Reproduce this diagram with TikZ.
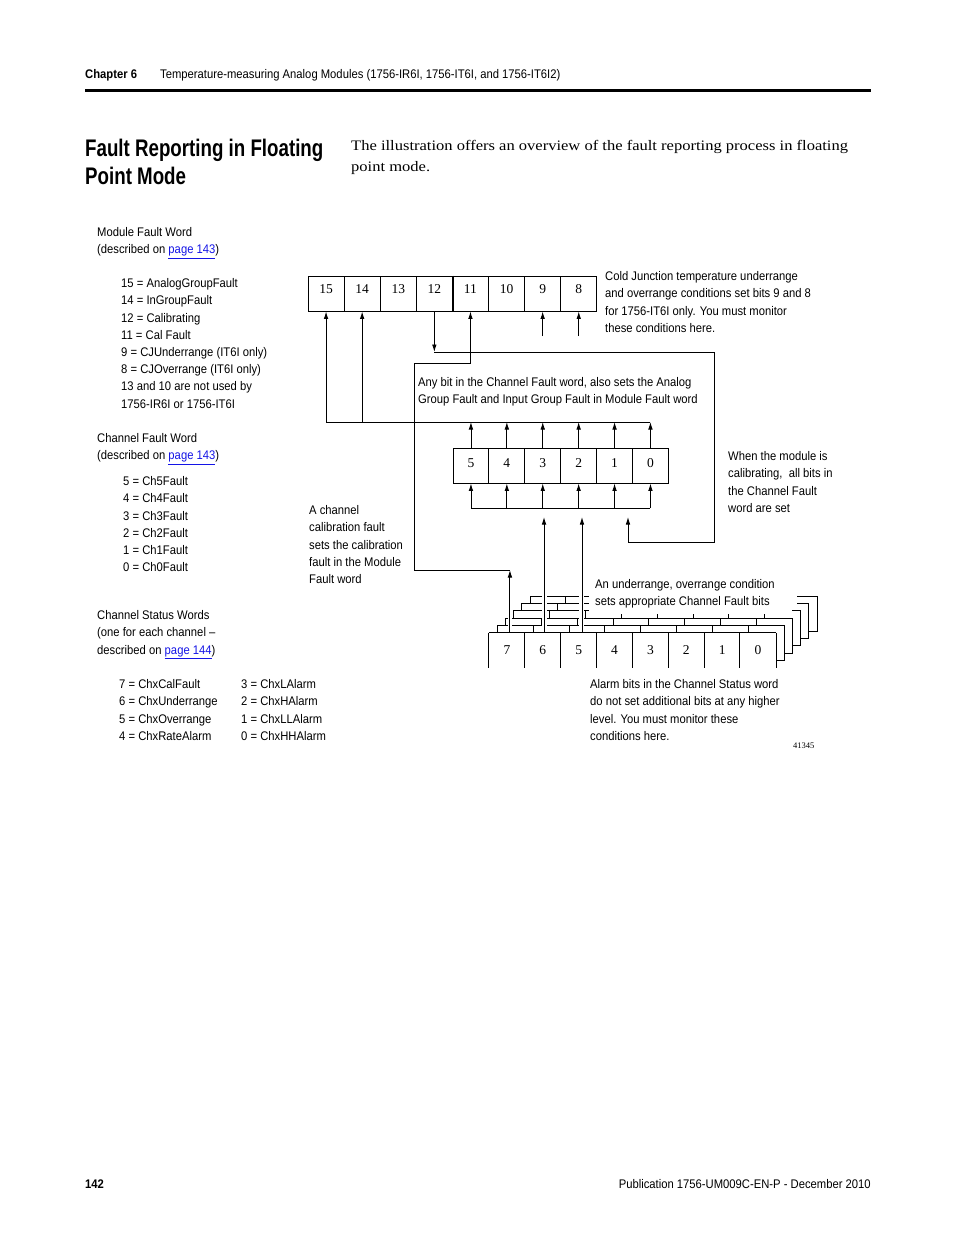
\documentclass[tikz,border=0pt]{standalone}
\usepackage{fontspec}
\setmainfont{Liberation Serif}
\newfontfamily\cond[FakeStretch=0.9]{Liberation Sans}
\newfontfamily\titlefont[FakeStretch=0.78]{Liberation Sans}
\newfontfamily\introfont[FakeStretch=1.14]{Liberation Serif}
\usetikzlibrary{arrows.meta}
\definecolor{linkblue}{RGB}{20,20,230}
\newcommand\lnkp[1]{\textcolor{linkblue}{\underline{#1}}}
\begin{document}
\begin{tikzpicture}[x=1pt,y=-1pt,
  ln/.style={line width=0.9pt},
  arr/.style={line width=0.9pt,-{Latex[length=7.5pt,width=4.6pt]}},
  txt/.style={font=\cond\fontsize{12.5}{17.2}\selectfont,anchor=north west,inner sep=0pt,align=left},
  cellbase/.style={minimum height=35pt,inner sep=0pt,font=\fontsize{13.5}{14}\selectfont},
  cellM/.style={cellbase,draw,line width=0.9pt,minimum width=36.1pt,text depth=8pt},
  cellC/.style={cellbase,draw,line width=0.9pt,minimum width=35.9pt,text depth=5pt},
  cellS/.style={cellbase,minimum width=35.875pt,text depth=0pt},
  halo/.style={white,line width=#1}
]
\fill[white] (0,0) rectangle (954,1235);
\useasboundingbox (0,0) rectangle (954,1235);

% header
\node[anchor=base west,inner sep=0pt,font=\cond\bfseries\fontsize{12.5}{14}\selectfont] (hdA) at (85,78.5) {Chapter 6};
\node[anchor=base west,inner sep=0pt,font=\cond\fontsize{12.5}{14}\selectfont] (hdB) at (160,78.5) {Temperature-measuring Analog Modules (1756-IR6I, 1756-IT6I, and 1756-IT6I2)};
\draw[line width=3pt] (85,90) -- (871,90);

% title and intro
\node[anchor=north west,inner sep=0pt,align=left,font=\titlefont\bfseries\fontsize{24}{28}\selectfont] (title) at (85,138.5) {Fault Reporting in Floating\\Point Mode};
\node[anchor=north west,inner sep=0pt,align=left,font=\introfont\fontsize{14.5}{21}\selectfont] (intro) at (351,140.5) {The illustration offers an overview of the fault reporting process in floating\\point mode.};

% left legend
\node[txt] (lg1) at (97,227.4) {Module Fault Word\\(described on \lnkp{page 143})};
\node[txt] (lg2) at (121,278.4) {15 = AnalogGroupFault\\14 = InGroupFault\\12 = Calibrating\\11 = Cal Fault\\9 = CJUnderrange (IT6I only)\\8 = CJOverrange (IT6I only)\\13 and 10 are not used by\\1756-IR6I or 1756-IT6I};
\node[txt] (lg3) at (97,433.4) {Channel Fault Word\\(described on \lnkp{page 143})};
\node[txt] (lg4) at (123,476.4) {5 = Ch5Fault\\4 = Ch4Fault\\3 = Ch3Fault\\2 = Ch2Fault\\1 = Ch1Fault\\0 = Ch0Fault};
\node[txt] (lg5) at (97,610.4) {Channel Status Words\\(one for each channel –\\described on \lnkp{page 144})};
\node[txt] (lg6) at (119,679.4) {7 = ChxCalFault\\6 = ChxUnderrange\\5 = ChxOverrange\\4 = ChxRateAlarm};
\node[txt] (lg7) at (241,679.4) {3 = ChxLAlarm\\2 = ChxHAlarm\\1 = ChxLLAlarm\\0 = ChxHHAlarm};

% registers
\foreach \n [count=\i from 0] in {15,14,13,12,11,10,9,8}
  \node[cellM] (m\n) at ({326.05+36.1*\i},293.5) {\n};
\draw[line width=1.6pt] (m12.north east) -- (m12.south east);
\foreach \n [count=\i from 0] in {5,4,3,2,1,0}
  \node[cellC] (cf\n) at ({470.95+35.9*\i},465.5) {\n};
\foreach \n [count=\i from 0] in {7,6,5,4,3,2,1,0}
  \node[cellS] (s\n) at ({506.94+35.875*\i},650.5) {\n};
\draw[ln] (s7.north west) -- (s0.north east);
\foreach \n in {7,6,5,4,3,2,1,0}
  \draw[ln] (s\n.north west) -- (s\n.south west);
\draw[ln] (s0.north east) -- (s0.south east);

% stacked channel status words behind
\foreach \k in {1,...,5}{
  \pgfmathsetmacro\Tk{633-7.4*\k}
  \pgfmathsetmacro\Tp{633-7.4*(\k-1)}
  \pgfmathsetmacro\Lk{489+8.2*\k}
  \pgfmathsetmacro\Rk{776+8.2*\k}
  \pgfmathsetmacro\Rp{776+8.2*(\k-1)}
  \pgfmathsetmacro\Bk{668-7.4*\k}
  \draw[ln] (\Lk,\Tp) -- (\Lk,\Tk) -- (\Rk,\Tk) -- (\Rk,\Bk) -- (\Rp,\Bk);
  \foreach \j in {1,...,7}
    \draw[ln] ({\Lk+35.875*\j},\Tk) -- ({\Lk+35.875*\j},\Tp);
}
% covers (label background and line halos)
\fill[white] (589,572) rectangle (797,608.5);
\fill[white] (589,608.5) rectangle (792,614);

% helper coordinates
\coordinate (hA) at (0,352);
\coordinate (hB) at (0,363);
\coordinate (hC) at (0,422);
\coordinate (hD) at (0,508);
\coordinate (hE) at (0,517);
\coordinate (hF) at (0,542);
\coordinate (hG) at (0,570);
\coordinate (hH) at (0,336);
\coordinate (hS) at (0,630.5);
\coordinate (hT) at (0,588);
\coordinate (vL) at (414,0);
\coordinate (vR) at (714,0);
\coordinate (vC) at (628,0);
\coordinate (c7) at ([xshift=3pt]s7.north);
\coordinate (c6) at ([xshift=1.2pt]s6.north);
\coordinate (c5) at ([xshift=3.3pt]s5.north);

\draw[halo=4pt] (c7 |- hS) -- (c7 |- hT);
\draw[halo=5pt] (c6 |- hS) -- (c6 |- hT);
\draw[halo=5pt] (c5 |- hS) -- (c5 |- hT);

% channel fault -> bits 15, 14
\foreach \n in {5,4,3,2,1,0}
  \draw[arr] (cf\n.north) -- (cf\n.north |- hC);
\draw[ln] (m15.south |- hC) -- (cf0.north |- hC);
\draw[arr] (m15.south |- hC) -- (m15.south);
\draw[arr] (m14.south |- hC) -- (m14.south);

% bus under channel fault word
\draw[ln] (cf5.south |- hD) -- (cf0.south |- hD);
\foreach \n in {5,4,3,2,1,0}
  \draw[arr] (cf\n.south |- hD) -- (cf\n.south);

% status bits 6, 5 -> channel fault
\draw[arr] (c6) -- (c6 |- hE);
\draw[arr] (c5) -- (c5 |- hE);

% calibrating (bit 12) -> all channel fault bits
\draw[arr] (m12.south) -- (m12.south |- hA);
\draw[arr] (m12.south |- hA) -| (vR |- hF) -| (vC |- hE);

% cal fault (status bit 7) -> bit 11
\draw[arr] (c7) -- (c7 |- hG);
\draw[arr] (c7 |- hG) -- (vL |- hG) -- (vL |- hB) -| (m11.south);

% CJ bits 9, 8
\draw[arr] (m9.south |- hH) -- (m9.south);
\draw[arr] (m8.south |- hH) -- (m8.south);

% notes
\node[txt] (nCJ) at (605,271.4) {Cold Junction temperature underrange\\and overrange conditions set bits 9 and 8\\for 1756-IT6I only. You must monitor\\these conditions here.};
\node[txt] (nAny) at (418,377.4) {Any bit in the Channel Fault word, also sets the Analog\\Group Fault and Input Group Fault in Module Fault word};
\node[txt] (nCal) at (728,451.4) {When the module is\\calibrating,\ \ all bits in\\the Channel Fault\\word are set};
\node[txt] (nChc) at (309,505.4) {A channel\\calibration fault\\sets the calibration\\fault in the Module\\Fault word};
\node[txt] (nUO) at (595,579.4) {An underrange, overrange condition\\sets appropriate Channel Fault bits};
\node[txt] (nAl) at (590,679.4) {Alarm bits in the Channel Status word\\do not set additional bits at any higher\\level. You must monitor these\\conditions here.};
\node[anchor=west,inner sep=0pt,font=\fontsize{8.5}{10}\selectfont] (fig) at (793,745.5) {41345};

% footer
\node[anchor=base west,inner sep=0pt,font=\cond\bfseries\fontsize{12.5}{14}\selectfont] (pg) at (85,1188.5) {142};
\node[anchor=base east,inner sep=0pt,font=\cond\fontsize{12.5}{14}\selectfont] (pub) at (871,1188.5) {Publication 1756-UM009C-EN-P - December 2010};
\end{tikzpicture}
\end{document}
